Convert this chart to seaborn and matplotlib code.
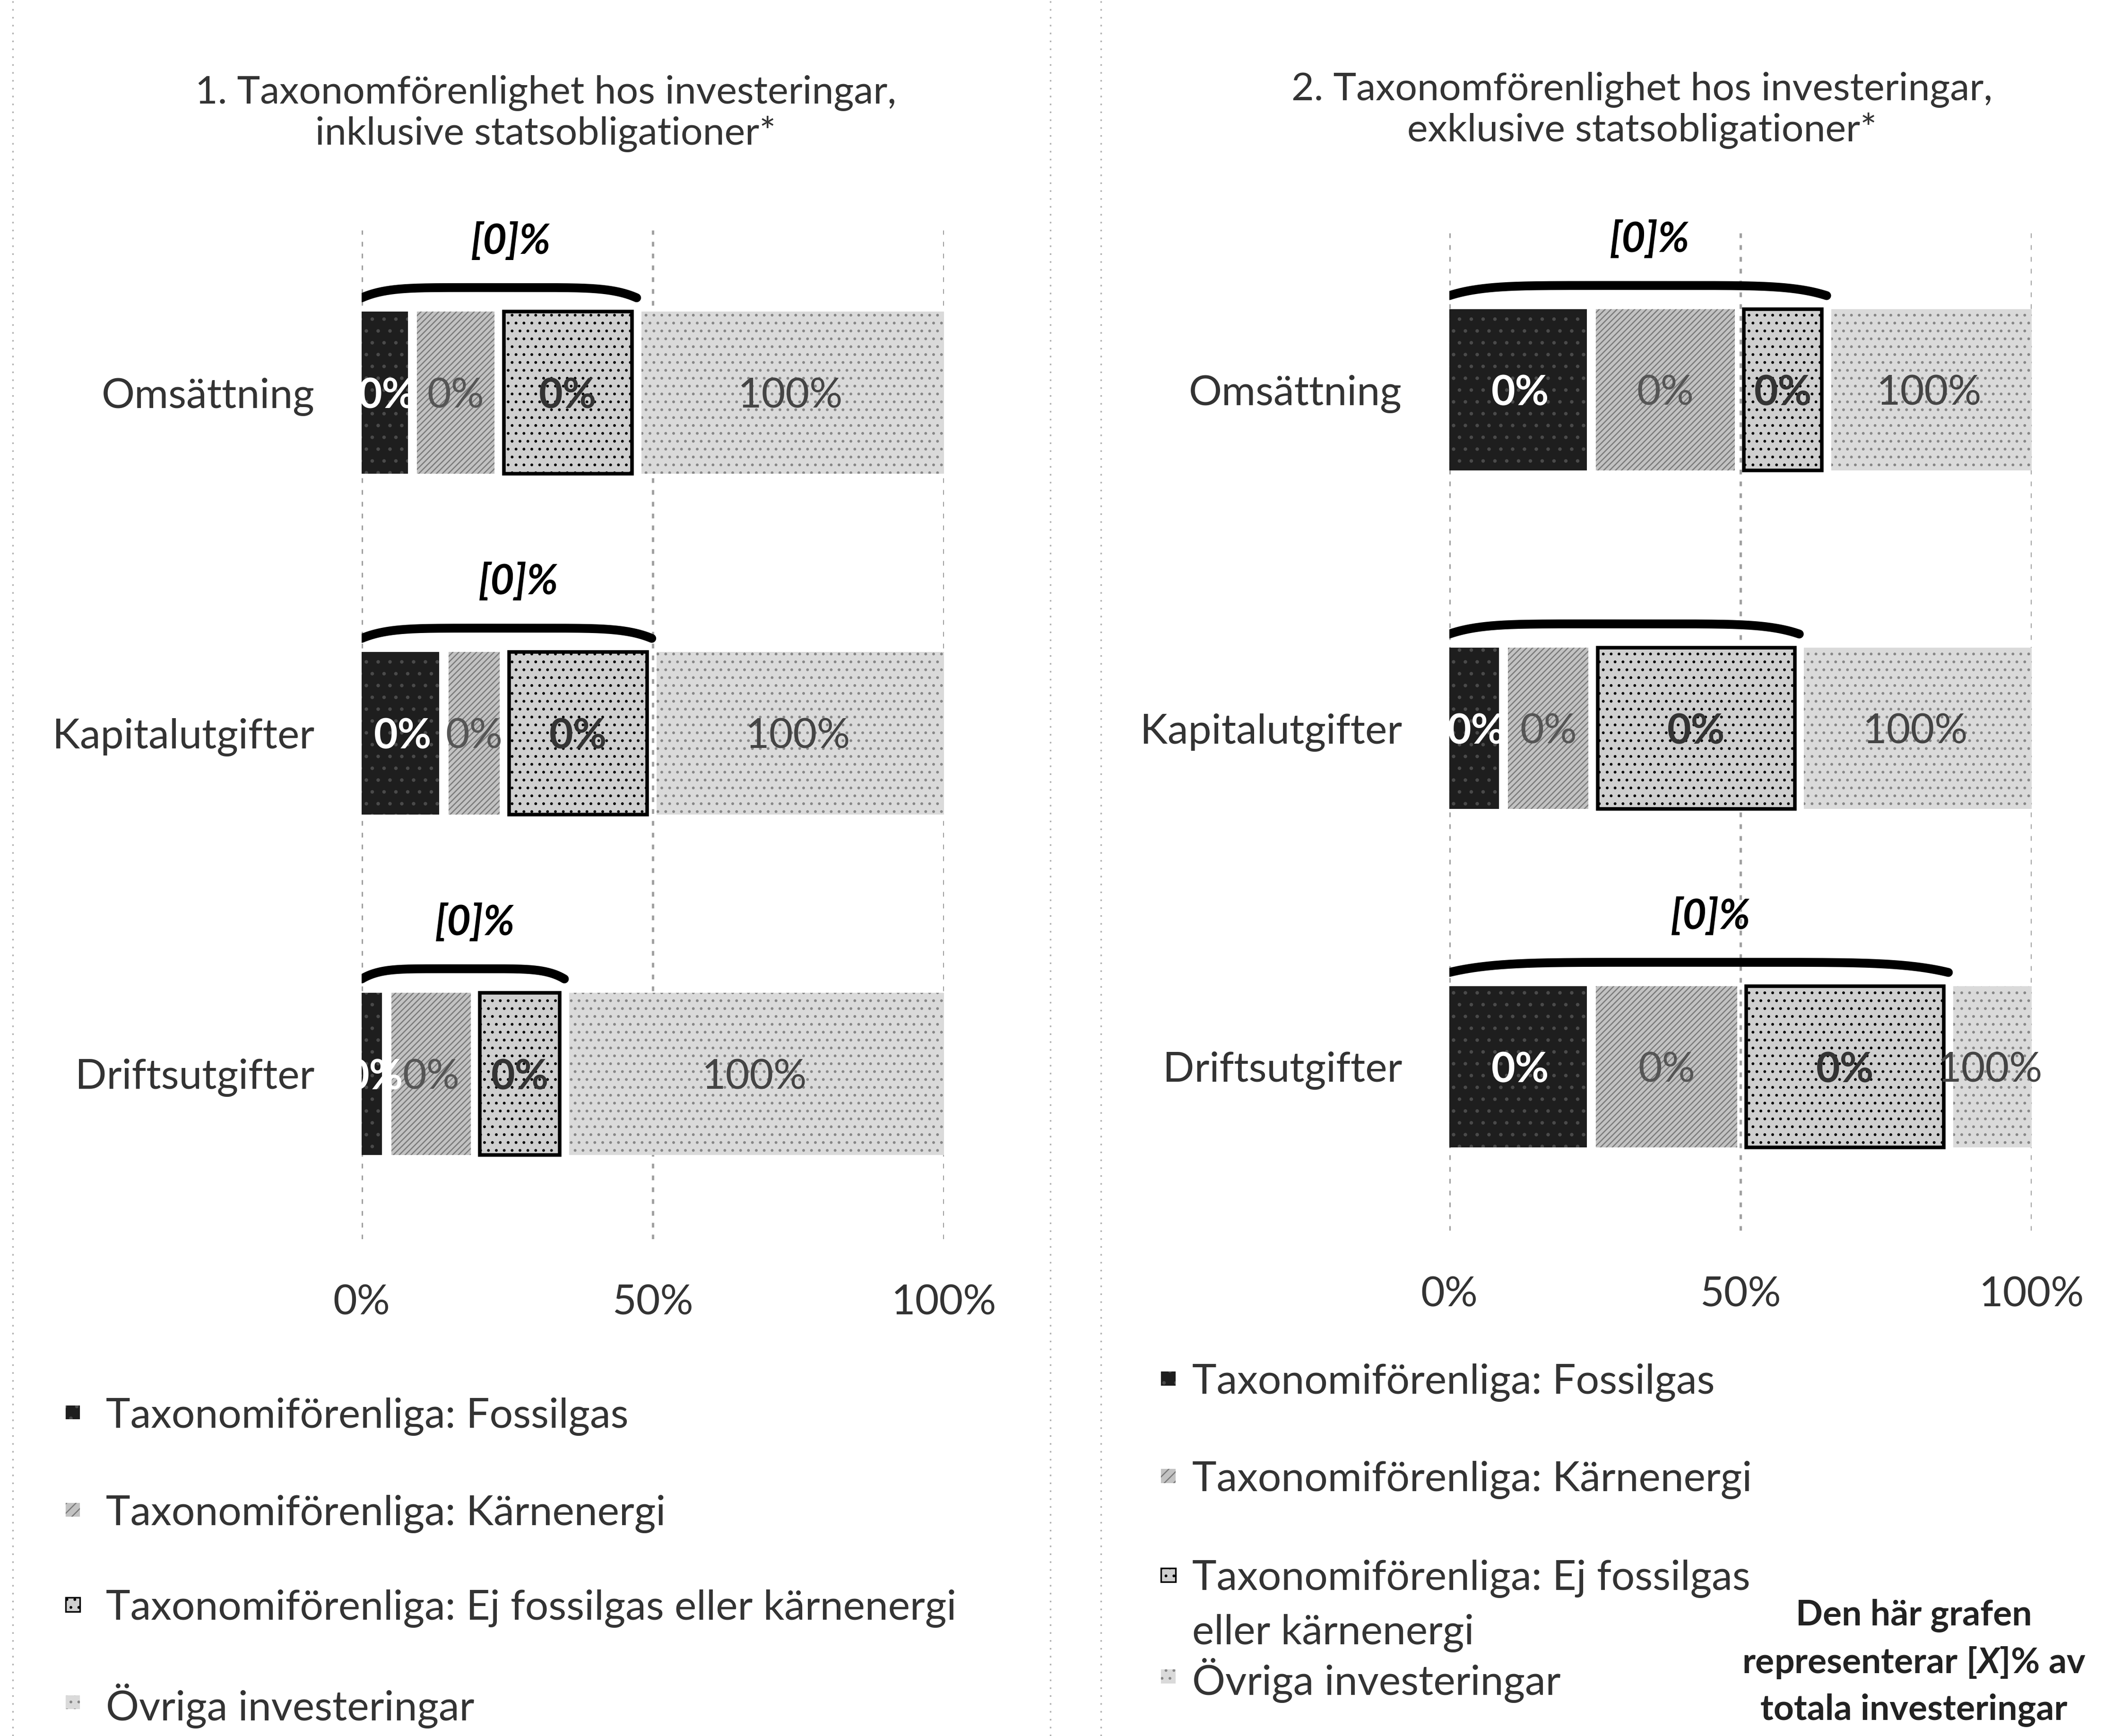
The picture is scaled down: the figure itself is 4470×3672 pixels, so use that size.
import textwrap
import numpy as np
import matplotlib as mpl
import matplotlib.pyplot as plt
import seaborn as sns
from matplotlib.patches import Rectangle
from matplotlib.lines import Line2D

categories = ["Omsättning", "Kapitalutgifter", "Driftsutgifter"]
series = ["Taxonomiförenliga: Fossilgas",
          "Taxonomiförenliga: Kärnenergi",
          "Taxonomiförenliga: Ej fossilgas eller kärnenergi",
          "Övriga investeringar"]

# segment lengths (in %) as drawn in the template chart
fossil_incl = [8.7, 14.1, 4.3]
karn_incl = [14.9, 10.4, 15.2]
ej_incl = [23.6, 25.3, 15.3]
ovriga_incl = [52.8, 50.2, 65.2]

fossil_excl = [24.4, 9.3, 24.4]
karn_excl = [25.4, 15.4, 25.8]
ej_excl = [15.0, 35.4, 35.5]
ovriga_excl = [35.2, 39.9, 14.3]

# printed data labels (template placeholders)
seg_labels = ["0%", "0%", "0%", "100%"]
brace_incl = ["[0]%", "[0]%", "[0]%"]
brace_excl = ["[0]%", "", "[0]%"]

xticks = [0, 50, 100]
xticklabels = ["0%", "50%", "100%"]

title_incl = "1. Taxonomförenlighet hos investeringar,\ninklusive statsobligationer*"
title_excl = "2. Taxonomförenlighet hos investeringar,\nexklusive statsobligationer*"
note = ["Den här grafen", r"representerar $\mathit{[X]}$% av", "totala investeringar"]

plt.rcParams["font.family"] = ["Lato", "DejaVu Sans"]
plt.rcParams["mathtext.fontset"] = "custom"
plt.rcParams["mathtext.it"] = "Lato:italic:bold"
plt.rcParams["mathtext.rm"] = "Lato:bold"
plt.rcParams["hatch.linewidth"] = 0.6

styles = [
    dict(face="#1e1e1e", hatch="..", hcol="#4a4a4a", edge=None, lw=0, tcol="white", tw="bold"),
    dict(face="#c2c2c2", hatch="////////", hcol="#7a7a7a", edge=None, lw=0, tcol="#555555", tw="normal"),
    dict(face="#cfcfcf", hatch="...", hcol="black", edge="black", lw=1.8, tcol="#333333", tw="bold"),
    dict(face="#dadada", hatch="...", hcol="#868686", edge=None, lw=0, tcol="#444444", tw="normal"),
]

BAR_W = 0.477
GAP = 1.6
FS = 21


def draw_panel(ax, parts, brace_labels):
    left = np.zeros(len(categories))
    for vals, st, lab in zip(parts, styles, seg_labels):
        vals = np.array(vals, dtype=float)
        right = left + vals
        # white gap between neighbouring segments, none at 0 % and 100 %
        x0 = np.where(left > 0, left + GAP / 2, left)
        x1 = np.where(right < 99.9, right - GAP / 2, right)
        kw = dict(hatch=st["hatch"])
        if st["edge"] is not None:
            kw.update(edgecolor=st["edge"], linewidth=st["lw"])
        with mpl.rc_context({"hatch.color": st["hcol"], "patch.force_edgecolor": False}):
            sns.barplot(x=x1 - x0, y=categories, left=x0, orient="h",
                        width=BAR_W, color=st["face"], saturation=1, errorbar=None,
                        ax=ax, **kw)
        for i, v in enumerate(vals):
            ax.text(left[i] + v / 2, i, lab, ha="center", va="center_baseline",
                    fontsize=FS, color=st["tcol"], fontweight=st["tw"])
        left = right

    # curved bracket over the taxonomy-aligned part
    aligned = np.array(parts[0]) + np.array(parts[1]) + np.array(parts[2])
    for i, b in enumerate(aligned):
        xs = np.linspace(0, b, 200)
        t = xs / b
        top = i - BAR_W / 2
        ys = top - 0.04 - 0.03 * (1 - np.abs(2 * t - 1) ** 6)
        ax.plot(xs, ys, color="black", lw=4.5, solid_capstyle="round")
        if brace_labels[i]:
            ax.text(b / 2 + 2, top - 0.205, brace_labels[i], ha="center", va="center",
                    fontsize=21, fontweight="bold", fontstyle="italic")

    ax.set_xlim(0, 100)
    ax.set_ylim(2.485, -0.477)
    ax.set_xticks(xticks)
    ax.set_xticklabels(xticklabels)
    ax.set_xlabel("")
    ax.set_ylabel("")
    ax.tick_params(length=0, labelsize=FS, colors="#333333")
    ax.tick_params(axis="x", pad=23)
    ax.tick_params(axis="y", pad=24)
    for s in ax.spines.values():
        s.set_visible(False)
    ax.xaxis.grid(True, linestyle=(0, (2, 3)), color="#a0a0a0", lw=1.2)
    ax.set_axisbelow(True)


def draw_legend(fig, x_mark, x_text, ys, wrap=None):
    for name, st, y in zip(series, styles, ys):
        lines = textwrap.wrap(name, wrap) if wrap else [name]
        with mpl.rc_context({"hatch.color": st["hcol"]}):
            fig.add_artist(Rectangle((x_mark, y - 0.004), 0.0068, 0.008,
                                     transform=fig.transFigure, facecolor=st["face"],
                                     hatch=st["hatch"] if st["hatch"] != "////////" else "/////",
                                     edgecolor=st["edge"] if st["edge"] else None,
                                     linewidth=0.8))
        for k, line in enumerate(lines):
            fig.text(x_text, y - k * 0.0312, line, ha="left", va="center_baseline",
                     fontsize=FS, color="#333333")


fig = plt.figure(figsize=(14.9, 12.24), dpi=300)
ax1 = fig.add_axes([0.1712, 0.2863, 0.2756, 0.5811])
ax2 = fig.add_axes([0.6859, 0.2910, 0.2756, 0.5774])

draw_panel(ax1, [fossil_incl, karn_incl, ej_incl, ovriga_incl], brace_incl)
draw_panel(ax2, [fossil_excl, karn_excl, ej_excl, ovriga_excl], brace_excl)

fig.text(0.2583, 0.9345, title_incl, ha="center", va="center", fontsize=19.8,
         linespacing=1.15, color="#333333")
fig.text(0.777, 0.9364, title_excl, ha="center", va="center", fontsize=19.8,
         linespacing=1.15, color="#333333")

draw_legend(fig, 0.031, 0.050, [0.1864, 0.1303, 0.0757, 0.0195])
draw_legend(fig, 0.5495, 0.5641, [0.2059, 0.1498, 0.0928, 0.0343], wrap=31)

for k, line in enumerate(note):
    fig.text(0.9058, 0.0694 - k * 0.0273, line, ha="center", va="center",
             fontsize=18, fontweight="bold", color="#222222")

# faint dotted borders of the original table layout
for xf in [0.006, 0.497, 0.521]:
    fig.add_artist(Line2D([xf, xf], [0.0, 1.0], transform=fig.transFigure,
                          color="#b0b0b0", lw=0.8, linestyle=(0, (1, 4))))

fig.savefig("out.png", dpi=300)
